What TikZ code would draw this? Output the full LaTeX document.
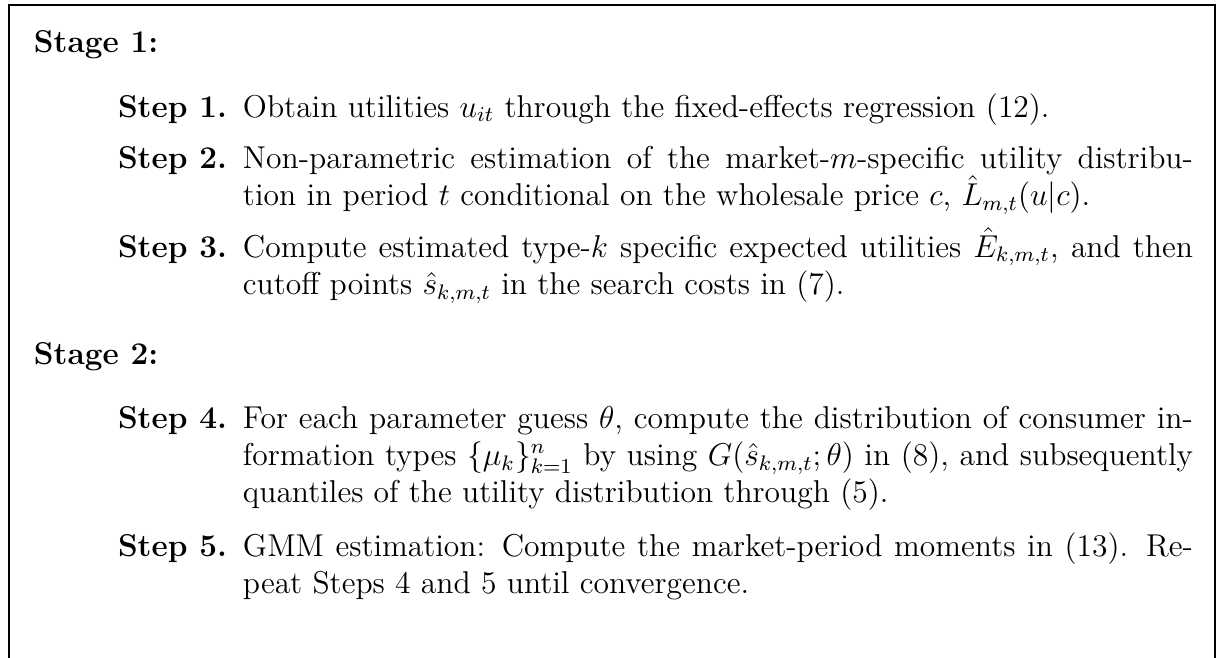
\documentclass[tikz,border=0pt,12pt]{standalone}
\usepackage{amsmath,amssymb}
\usepackage{tikz}
\usetikzlibrary{positioning}

\begin{document}
\begin{tikzpicture}[
  x=0.38pt, y=-0.38pt,
  every node/.style={inner sep=0, outer sep=0},
  stagelbl/.style={anchor=base west, font=\bfseries},
  steplbl/.style={anchor=base west, font=\bfseries},
  stepbody/.style={anchor=base west, text width=361pt, align=justify,
                   font=\fontsize{12}{14.2}\selectfont},
  frame/.style={line width=0.5pt, black},
]

\useasboundingbox (0,0) rectangle (1219,658);

\def\lblx{118}
\def\bodyx{243}

%% ── frame (open at the bottom) ───────────────────────────────────────────
\coordinate (fbl) at (9,658);
\coordinate (ftl) at (9,5);
\coordinate (ftr) at (1215,5);
\coordinate (fbr) at (1215,658);
\draw[frame] (fbl) -- (ftl) -- (ftr) -- (fbr);

%% ── stage headings ───────────────────────────────────────────────────────
\node[stagelbl] (stage1) at (34,52)  {Stage 1:};
\node[stagelbl] (stage2) at (34,364) {Stage 2:};

%% ── step labels ──────────────────────────────────────────────────────────
\foreach \i/\y in {1/117, 2/168, 3/257, 4/428, 5/556} {
  \node[steplbl] (lbl\i) at (\lblx,\y) {Step \i.};
}

%% ── step texts ───────────────────────────────────────────────────────────
\node[stepbody] (body1) at (\bodyx,117)
  {Obtain utilities $u_{it}$ through the fixed-effects regression (12).};
\node[stepbody] (body2) at (\bodyx,168)
  {Non-parametric estimation of the market-$m$-specific utility distribu-\linebreak
   tion in period $t$ conditional on the wholesale price $c$, $\hat{L}_{m,t}(u|c)$.};
\node[stepbody] (body3) at (\bodyx,257)
  {Compute estimated type-$k$ specific expected utilities $\hat{E}_{k,m,t}$, and then\linebreak
   cutoff points $\hat{s}_{k,m,t}$ in the search costs in (7).};
\node[stepbody] (body4) at (\bodyx,428)
  {For each parameter guess $\theta$, compute the distribution of consumer in-\linebreak
   formation types $\{\mu_k\}_{k=1}^{n}$ by using $G(\hat{s}_{k,m,t};\theta)$ in (8), and subsequently\linebreak
   quantiles of the utility distribution through (5).};
\node[stepbody] (body5) at (\bodyx,556)
  {GMM estimation: Compute the market-period moments in (13). Re-\linebreak
   peat Steps 4 and 5 until convergence.};

\end{tikzpicture}
\end{document}
